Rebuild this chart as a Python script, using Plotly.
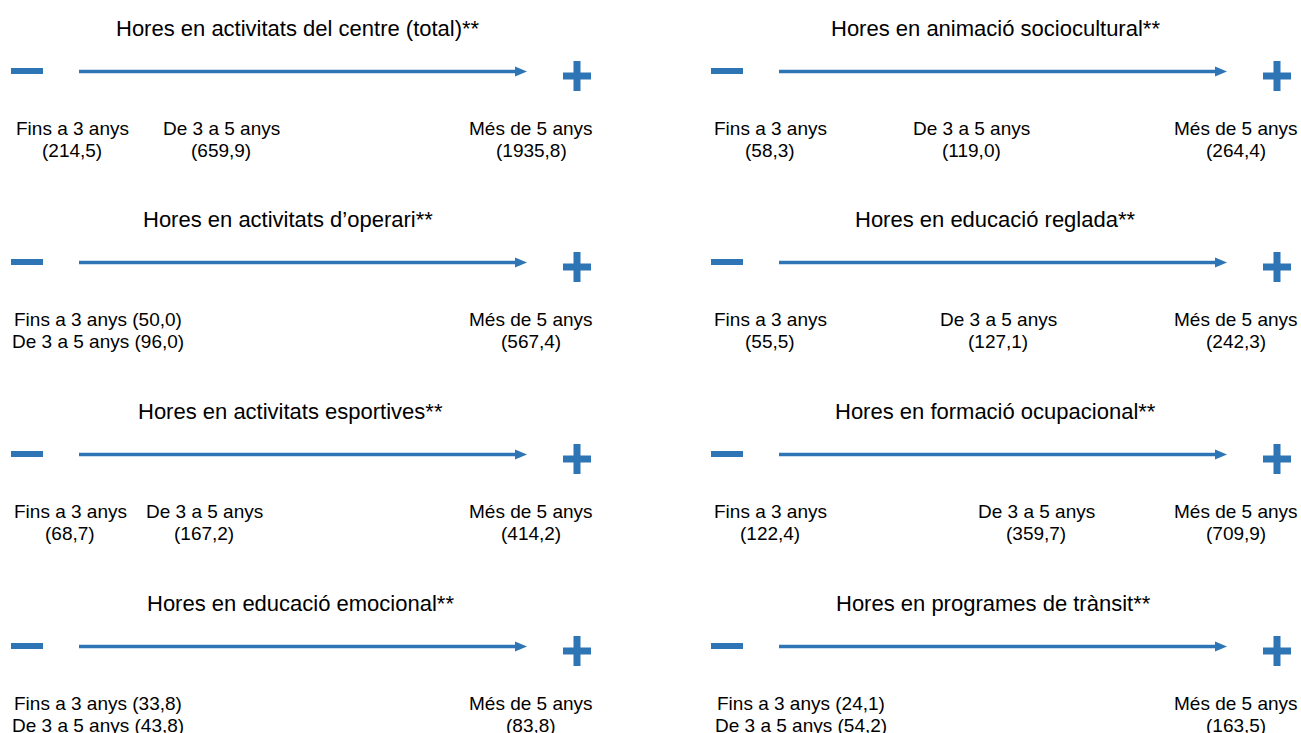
import plotly.graph_objects as go

# ---------------- data ----------------
titles = [
    "Hores en activitats del centre (total)**",
    "Hores en activitats d\u2019operari**",
    "Hores en activitats esportives**",
    "Hores en educació emocional**",
    "Hores en animació sociocultural**",
    "Hores en educació reglada**",
    "Hores en formació ocupacional**",
    "Hores en programes de trànsit**",
]
categories = ["Fins a 3 anys", "De 3 a 5 anys", "Més de 5 anys"]

vals_total = [214.5, 659.9, 1935.8]
vals_operari = [50.0, 96.0, 567.4]
vals_esportives = [68.7, 167.2, 414.2]
vals_emocional = [33.8, 43.8, 83.8]
vals_sociocultural = [58.3, 119.0, 264.4]
vals_reglada = [55.5, 127.1, 242.3]
vals_ocupacional = [122.4, 359.7, 709.9]
vals_transit = [24.1, 54.2, 163.5]

panel_values = [vals_total, vals_operari, vals_esportives, vals_emocional,
                vals_sociocultural, vals_reglada, vals_ocupacional, vals_transit]
# categories whose labels are stacked together (first two merged)
merged = [False, True, False, True, False, False, False, True]

# ---------------- layout (pixel positions) ----------------
W, H = 1301, 733
BLUE = "#2E75B6"
FONT = "Liberation Sans, Arial, sans-serif"

col_off = [0, 700]
row_arrow_y = [71, 262, 454, 646]
title_x = [298, 288, 290, 300, 995, 995, 995, 993]
label_x = [
    [72, 221, 531],
    [98, None, 531],
    [70, 204, 531],
    [98, None, 531],
    [770, 971, 1236],
    [770, 998, 1236],
    [770, 1036, 1236],
    [801, None, 1236],
]


def fmt(v):
    return f"({v:.1f})".replace(".", ",")


shapes = []
annotations = []

for p in range(8):
    col, row = divmod(p, 4)
    ox = col_off[col]
    ay = row_arrow_y[row]
    vals = panel_values[p]

    # minus sign
    shapes.append(dict(type="line", xref="x", yref="y", x0=ox + 11, x1=ox + 43,
                       y0=ay, y1=ay, line=dict(color=BLUE, width=6)))
    # arrow line
    shapes.append(dict(type="line", xref="x", yref="y", x0=ox + 79, x1=ox + 516,
                       y0=ay + 0.5, y1=ay + 0.5, line=dict(color=BLUE, width=3.5)))
    # arrow head
    shapes.append(dict(type="path", xref="x", yref="y",
                       path=f"M {ox+515},{ay-4.5} L {ox+527},{ay+0.5} L {ox+515},{ay+5.5} Z",
                       fillcolor=BLUE, line=dict(color=BLUE, width=0)))
    # plus sign
    pcx, pcy = ox + 577, ay + 5
    shapes.append(dict(type="line", xref="x", yref="y", x0=pcx, x1=pcx,
                       y0=pcy - 15, y1=pcy + 15, line=dict(color=BLUE, width=7)))
    shapes.append(dict(type="line", xref="x", yref="y", x0=pcx - 14, x1=pcx + 14,
                       y0=pcy, y1=pcy, line=dict(color=BLUE, width=7)))

    # title
    annotations.append(dict(x=title_x[p], y=ay - 43, xref="x", yref="y",
                            text=titles[p], showarrow=False,
                            xanchor="center", yanchor="middle",
                            font=dict(family=FONT, size=22, color="#000000")))

    # labels
    ly = ay + 57
    if merged[p]:
        lines = [f"{categories[0]} {fmt(vals[0])}", f"{categories[1]} {fmt(vals[1])}"]
        for k, t in enumerate(lines):
            annotations.append(dict(x=label_x[p][0], y=ly + 22 * k, xref="x", yref="y",
                                    text=t, showarrow=False,
                                    xanchor="center", yanchor="middle",
                                    font=dict(family=FONT, size=19, color="#000000")))
        idxs = [2]
    else:
        idxs = [0, 1, 2]
    for i in idxs:
        for k, t in enumerate([categories[i], fmt(vals[i])]):
            annotations.append(dict(x=label_x[p][i], y=ly + 22 * k, xref="x", yref="y",
                                    text=t, showarrow=False,
                                    xanchor="center", yanchor="middle",
                                    font=dict(family=FONT, size=19, color="#000000")))

fig = go.Figure()
fig.update_layout(
    width=W, height=H,
    margin=dict(l=0, r=0, t=0, b=0),
    paper_bgcolor="white", plot_bgcolor="white",
    xaxis=dict(range=[0, W], visible=False, fixedrange=True),
    yaxis=dict(range=[H, 0], visible=False, fixedrange=True),
    shapes=shapes, annotations=annotations, showlegend=False,
)

fig.write_html("out.html", config={"displayModeBar": False},
               post_script="document.body.style.margin='0';")
